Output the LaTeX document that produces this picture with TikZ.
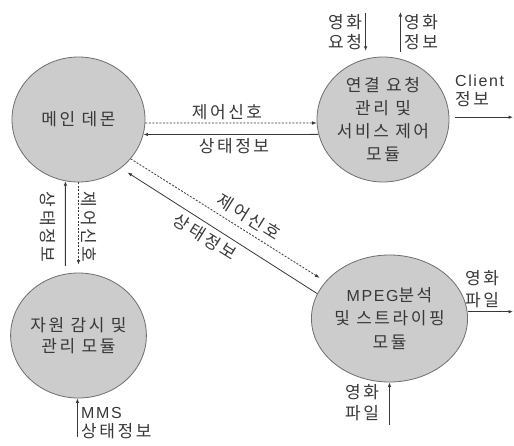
\documentclass[tikz,border=0pt]{standalone}
\usepackage{fontspec}
\setmainfont{Noto Sans CJK KR}[LetterSpace=15]
\newfontfamily\latin{Liberation Sans}[LetterSpace=10,Scale=0.94]
\usetikzlibrary{shapes.geometric,arrows.meta}
\definecolor{circfill}{HTML}{CCCCCC}
\definecolor{circline}{HTML}{6E6E6E}
\definecolor{ink}{HTML}{383838}
\begin{document}
\begin{tikzpicture}[x=1pt,y=-1pt,
  proc/.style={ellipse, draw=circline, fill=circfill, line width=0.8pt, inner sep=0pt,
    text=ink, align=center, font=\fontsize{17}{23}\selectfont},
  lbl/.style={text=ink, font=\fontsize{17}{20}\selectfont, inner sep=0pt, align=center},
  flow/.style={draw=ink, line width=0.8pt, -{Latex[length=4.5pt,width=3.5pt]}},
  ctrl/.style={flow, dash pattern=on 2pt off 1.5pt}]
\fill[white] (0,0) rectangle (514,445);
\useasboundingbox (0,0) rectangle (514,445);

% processes
\node[proc, minimum width=133pt, minimum height=125pt] (main) at (78.5,119.5) {메인 데몬};
\node[proc, minimum width=132pt, minimum height=125pt] (conn) at (383,119.5)
  {연결 요청\\관리 및\\서비스 제어\\모듈};
\node[proc, minimum width=131pt, minimum height=125pt, font=\fontsize{17}{21}\selectfont]
  (res) at (78.5,335.5) {자원 감시 및\\관리 모듈};
\node[proc, minimum width=129pt, minimum height=127pt, font=\fontsize{17}{23.5}\selectfont]
  (mpeg) at (389.5,318.5) {{\latin MPEG}분석\\및 스트라이핑\\모듈};

% main <-> conn
\draw[ctrl] (main.-3) -- (conn.183);
\draw[flow] (conn.193) -- (main.-13);
\node[lbl] (l1) at (227,112) {제어신호};
\node[lbl] (l2) at (234,146) {상태정보};

% main <-> mpeg
\draw[ctrl, shorten >=7pt] (main.-37) -- (mpeg.150);
\draw[flow, shorten >=8pt] (mpeg.161) -- (main.-49);
\node[lbl, rotate=-32] (l3) at (249,217) {제어신호};
\node[lbl, rotate=-32] (l4) at (205,237) {상태정보};

% main <-> res
\draw[flow, shorten <=8pt] (res.102) -- (main.-102);
\draw[ctrl, shorten >=8pt] (main.south) -- (res.north);
\node[lbl, rotate=-90] (l5) at (48,227) {상태정보};
\node[lbl, rotate=-90] (l6) at (89,227) {제어신호};

% conn externals
\coordinate (reqtop) at (366,13);
\coordinate (infotop) at (401,12);
\coordinate (clientend) at (513,117);
\draw[flow, shorten >=8pt] (conn.106 |- reqtop) -- (conn.106);
\draw[flow, shorten <=7pt] (conn.74) -- (conn.74 |- infotop);
\draw[flow, shorten <=6pt] (conn.2) -- (conn.2 -| clientend);
\node[lbl] (reqlbl) at (345,32) {영화\\요청};
\node[lbl] (infolbl) at (421,32) {영화\\정보};
\node[lbl, align=left, anchor=west, font=\fontsize{17}{19}\selectfont] (clientlbl) at (455,91) {{\latin Client}\\정보};

% res external
\coordinate (mmsbot) at (77,437);
\draw[flow] (res.-91 |- mmsbot) -- (res.-91);
\node[lbl, align=left, anchor=west, font=\fontsize{17}{19}\selectfont] (mmslbl) at (81,423.5) {{\latin MMS}\\상태정보};

% mpeg externals
\coordinate (fileout) at (513,313);
\coordinate (filein) at (389,425);
\draw[flow] (mpeg.5) -- (mpeg.5 -| fileout);
\draw[flow] (mpeg.south |- filein) -- (mpeg.south);
\node[lbl, font=\fontsize{17}{22}\selectfont] (outlbl) at (482,289) {영화\\파일};
\node[lbl, font=\fontsize{17}{21}\selectfont] (inlbl) at (362,402.5) {영화\\파일};
\end{tikzpicture}
\end{document}
